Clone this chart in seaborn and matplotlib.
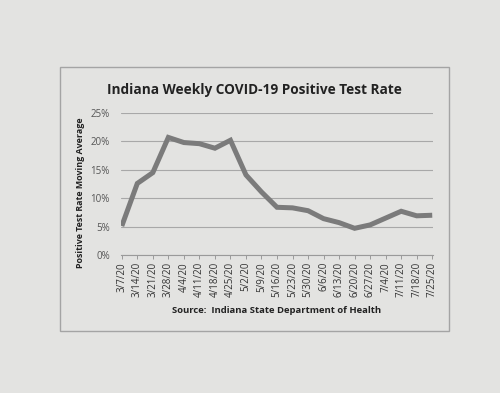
import matplotlib
matplotlib.use("Agg")
import matplotlib.pyplot as plt
import seaborn as sns
import pandas as pd
import numpy as np
from matplotlib.patches import Rectangle

dates = ["3/7/20", "3/14/20", "3/21/20", "3/28/20", "4/4/20", "4/11/20", "4/18/20",
         "4/25/20", "5/2/20", "5/9/20", "5/16/20", "5/23/20", "5/30/20", "6/6/20",
         "6/13/20", "6/20/20", "6/27/20", "7/4/20", "7/11/20", "7/18/20", "7/25/20"]
rates = [5.1, 12.6, 14.5, 20.7, 19.8, 19.6, 18.8, 20.2, 14.1, 11.1, 8.4,
         8.3, 7.8, 6.4, 5.7, 4.7, 5.3, 6.5, 7.7, 6.9, 7.0]
yticks = [0, 5, 10, 15, 20, 25]

df = pd.DataFrame({"pos": np.arange(len(dates)), "rate": rates})

sns.set_theme(style="white")
plt.rcParams["font.family"] = ["Open Sans", "DejaVu Sans"]

bg = "#e3e3e1"
fig = plt.figure(figsize=(5, 3.93), dpi=100, facecolor=bg)

# printed chart frame
fig.patches.append(Rectangle((60 / 500, 1 - 331 / 393), (449 - 60) / 500, (331 - 67) / 393,
                             transform=fig.transFigure, fill=False, edgecolor="#a4a4a4",
                             linewidth=1.0))

ax = fig.add_axes([121 / 500, 1 - 255 / 393, (433 - 121) / 500, (255 - 113) / 393])
ax.set_facecolor(bg)
sns.lineplot(data=df, x="pos", y="rate", ax=ax, color="#7b7b7b", linewidth=3.6,
             solid_capstyle="butt", solid_joinstyle="miter")

ax.set_ylim(0, 25)
ax.set_xlim(-0.05, len(dates) - 0.95)
ax.set_yticks(yticks)
ax.set_yticklabels([f"{v}%" for v in yticks], fontsize=7, color="#555555")
ax.set_xticks(df["pos"])
ax.set_xticklabels(dates, rotation=90, fontsize=7, color="#333333")
ax.grid(axis="y", color="#a8a8a8", linewidth=0.8)
ax.grid(axis="x", visible=False)
for s in ["top", "right", "left"]:
    ax.spines[s].set_visible(False)
ax.spines["bottom"].set_color("#9a9a9a")
ax.spines["bottom"].set_linewidth(0.8)
ax.tick_params(axis="x", length=3, width=0.7, color="#9a9a9a", pad=2, bottom=True)
ax.tick_params(axis="y", length=0, pad=8)
ax.set_xlabel("Source:  Indiana State Department of Health", fontsize=6.8,
              fontweight="bold", color="#222222", labelpad=6)
ax.set_ylabel("Positive Test Rate Moving Average", fontsize=6.4, fontweight="bold",
              color="#222222")
ax.yaxis.set_label_coords(-0.115, 0.44)

fig.text(254 / 500, 1 - 90 / 393, "Indiana Weekly COVID-19 Positive Test Rate",
         ha="center", va="center", fontsize=9.8, fontweight="bold", color="#222222")

fig.savefig("out.png", dpi=100, facecolor=bg)
